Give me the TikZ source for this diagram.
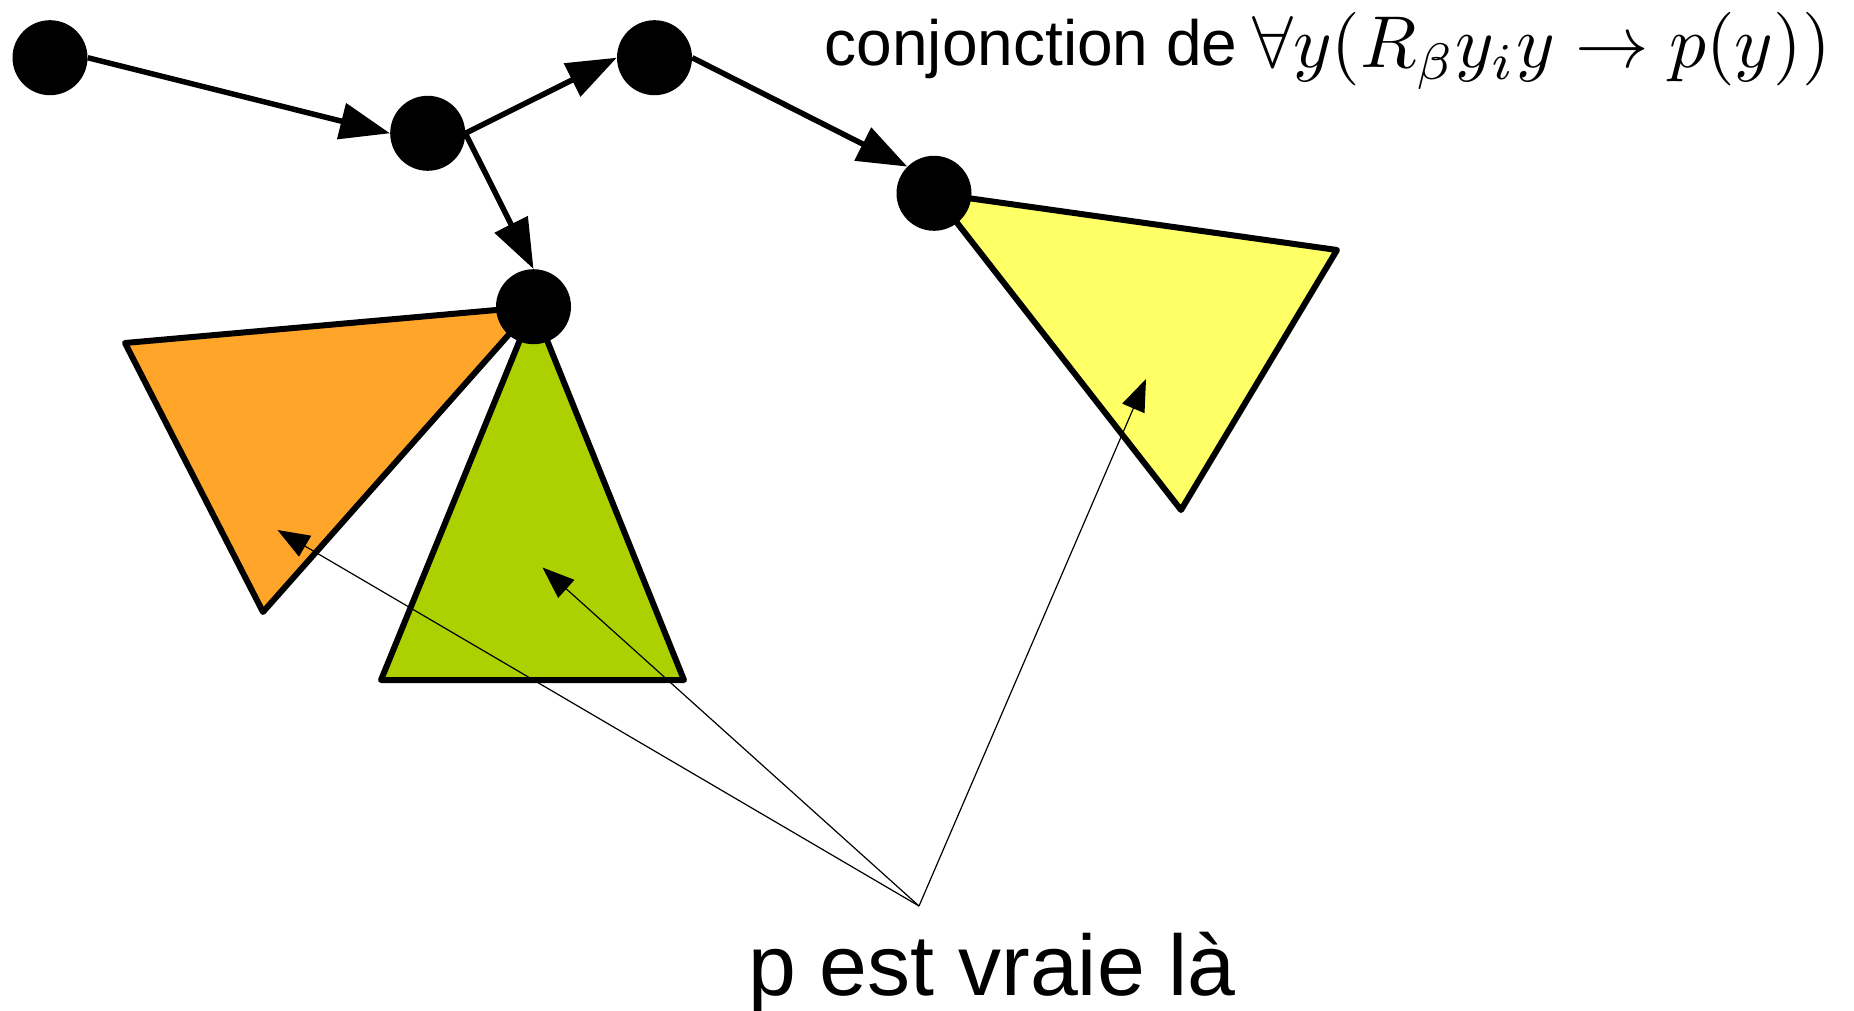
\documentclass[tikz,border=0pt]{standalone}
\usepackage{graphicx}
\usepackage{fontspec}
\newfontfamily\arial{Liberation Sans}
\usetikzlibrary{arrows.meta}
\definecolor{orangeT}{RGB}{255,166,42}
\definecolor{greenT}{RGB}{173,208,0}
\definecolor{yellowT}{RGB}{255,255,102}
\begin{document}
\begin{tikzpicture}[x=1pt,y=-1pt,
 dot/.style={circle,fill=black,minimum size=75pt,inner sep=0pt},
 tri/.style={draw=black,line width=6pt,line join=round},
 thickarrow/.style={line width=5.5pt,-{Triangle[length=50pt,width=36pt]}},
 thinarrow/.style={line width=1.2pt,-{Triangle[length=32pt,width=24pt]}},
]
\useasboundingbox (0,0) rectangle (1854,1011);
\coordinate (A) at (50,57.7);
\coordinate (B) at (427.7,133.3);
\coordinate (C) at (654.5,57.7);
\coordinate (D) at (533.5,306.7);
\coordinate (E) at (934,193.3);
% triangles
\filldraw[tri,fill=orangeT] (D) -- (125,343) -- (263,612) -- cycle;
\filldraw[tri,fill=greenT] (D) -- (684,680) -- (381,680) -- cycle;
\filldraw[tri,fill=yellowT] (E) -- (1337,250) -- (1181,510) -- cycle;
% dots
\node[dot] (nA) at (A) {};
\node[dot] (nB) at (B) {};
\node[dot] (nC) at (C) {};
\node[dot] (nD) at (D) {};
\node[dot] (nE) at (E) {};
% thick arrows
\draw[thickarrow] (nA.east) -- (nB.west);
\draw[thickarrow] (nB.east) -- (nC.west);
\draw[thickarrow] (nB.east) -- (nD.north);
\draw[thickarrow] (nC.east) -- (nE.north west);
% thin arrows
\coordinate (P) at (919,906);
\coordinate (oT) at (277.5,530);
\coordinate (gT) at (542.5,567.5);
\coordinate (yT) at (1146,379);
\draw[thinarrow] (P) -- (oT);
\draw[thinarrow] (P) -- (gT);
\draw[thinarrow] (P) -- (yT);
% labels
\node[anchor=base west,inner sep=0pt,font=\arial\fontsize{64}{76}\selectfont] (conj) at (824.5,66) {conjonction de};
\node[anchor=base west,inner sep=0pt] (form) at (1252,68) {\scalebox{7.35}{$\forall y(R_\beta y_i y\to p(y))$}};
\node[anchor=base west,inner sep=0pt,font=\arial\fontsize{86}{100}\selectfont] (lbl) at (748,995) {p est vraie là};
\end{tikzpicture}
\end{document}
